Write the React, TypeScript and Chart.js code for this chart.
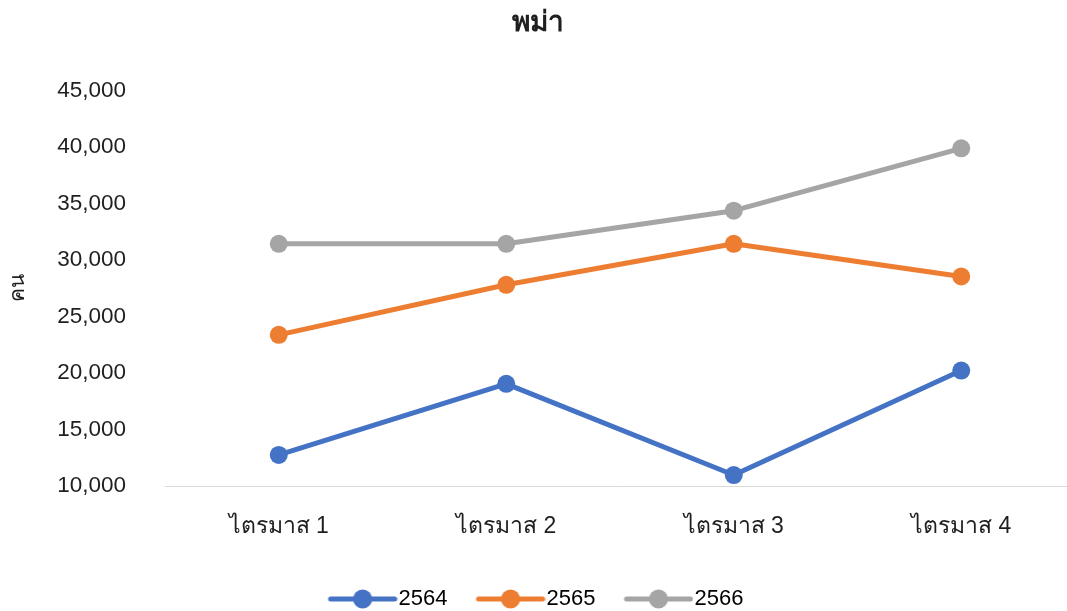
import React, { useEffect, useRef } from 'react';
import { Chart, registerables } from 'chart.js';
Chart.register(...registerables);

const categories = ['ไตรมาส 1', 'ไตรมาส 2', 'ไตรมาส 3', 'ไตรมาส 4'];
const seriesNames = ['2564', '2565', '2566'];
const values2564 = [12750, 19040, 10970, 20220];
const values2565 = [23380, 27810, 31440, 28545];
const values2566 = [31440, 31440, 34370, 39890];
const seriesColors = ['#4472C4', '#ED7D31', '#A5A5A5'];
const yMin = 10000;
const yMax = 45000;
const yStep = 5000;
const chartTitle = 'พม่า';
const yAxisTitle = 'คน';

const FONT = '"Liberation Sans", Arial, "Noto Sans", "DejaVu Sans", sans-serif';
const TEXT = '#1f1f1f';

function makeIcon(color: string) {
  const c = document.createElement('canvas');
  c.width = 76;
  c.height = 22;
  const ctx = c.getContext('2d')!;
  ctx.strokeStyle = color;
  ctx.lineWidth = 5;
  ctx.lineCap = 'round';
  ctx.beginPath();
  ctx.moveTo(9, 11);
  ctx.lineTo(73, 11);
  ctx.stroke();
  ctx.fillStyle = color;
  ctx.beginPath();
  ctx.arc(41, 11, 9.5, 0, Math.PI * 2);
  ctx.fill();
  return c;
}

export default function App() {
  const ref = useRef<HTMLCanvasElement>(null);
  useEffect(() => {
    const canvas = ref.current!;
    const icons = seriesColors.map(makeIcon);
    const series = [values2564, values2565, values2566];
    const chart = new Chart(canvas, {
      type: 'line',
      data: {
        labels: categories,
        datasets: series.map((d, i) => ({
          label: seriesNames[i],
          data: d,
          borderColor: seriesColors[i],
          backgroundColor: seriesColors[i],
          pointBackgroundColor: seriesColors[i],
          pointBorderColor: seriesColors[i],
          borderWidth: 5,
          pointRadius: 9,
          pointBorderWidth: 0,
          borderCapStyle: 'round',
          borderJoinStyle: 'round',
          tension: 0,
          fill: false,
        })),
      },
      options: {
        responsive: false,
        animation: false,
        layout: { padding: 0, autoPadding: false },
        plugins: {
          title: {
            display: true,
            text: chartTitle,
            color: TEXT,
            font: { family: FONT, size: 28, weight: 'bold' },
            padding: { top: 6, bottom: 51 },
          },
          legend: {
            position: 'bottom',
            labels: {
              usePointStyle: true,
              pointStyleWidth: 56,
              padding: 32,
              color: TEXT,
              font: { family: FONT, size: 22 },
              generateLabels: (ch: any) =>
                ch.data.datasets.map((ds: any, i: number) => ({
                  text: ds.label,
                  pointStyle: icons[i],
                  fillStyle: seriesColors[i],
                  strokeStyle: seriesColors[i],
                  lineWidth: 0,
                  hidden: false,
                  datasetIndex: i,
                })),
            },
          },
          tooltip: { enabled: false },
        },
        scales: {
          x: {
            offset: true,
            grid: { display: false, drawTicks: false },
            border: { display: true, color: '#D9D9D9', width: 1 },
            ticks: { padding: 27, color: TEXT, font: { family: FONT, size: 23 } },
            afterFit: (s: any) => {
              s.height = 70;
            },
          },
          y: {
            min: yMin,
            max: yMax,
            grid: { display: false, drawTicks: false },
            border: { display: false },
            ticks: {
              stepSize: yStep,
              padding: 39,
              color: TEXT,
              font: { family: FONT, size: 22.5 },
              callback: (v: any) => Number(v).toLocaleString('en-US'),
            },
            title: {
              display: true,
              text: yAxisTitle,
              color: TEXT,
              font: { family: FONT, size: 21 },
              padding: { top: 6, bottom: 0 },
            },
            afterFit: (s: any) => {
              s.width = 165;
            },
          },
        },
      },
    } as any);
    return () => chart.destroy();
  }, []);
  return (
    <div
      style={{
        position: 'fixed',
        left: 0,
        top: 0,
        width: 1067,
        height: 611,
        overflow: 'hidden',
        background: '#fff',
      }}
    >
      <canvas ref={ref} width={1075} height={620} style={{ display: 'block' }} />
    </div>
  );
}
